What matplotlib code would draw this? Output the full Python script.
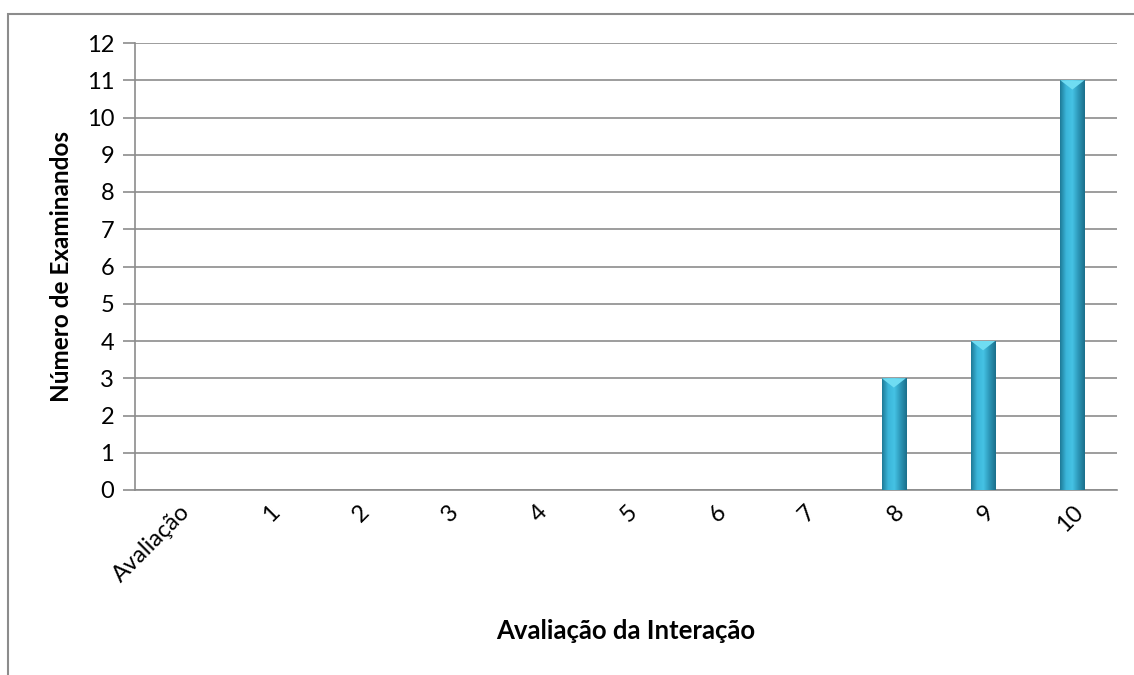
import numpy as np
import matplotlib.pyplot as plt
from matplotlib.colors import LinearSegmentedColormap
from matplotlib.patches import Rectangle

categories = ['Avaliação', '1', '2', '3', '4', '5', '6', '7', '8', '9', '10']
values = [0, 0, 0, 0, 0, 0, 0, 0, 3, 4, 11]

plt.rcParams['font.family'] = ['Lato', 'DejaVu Sans']

fig = plt.figure(figsize=(11.34, 6.75), dpi=100)
ax = fig.add_axes([135 / 1134, 1 - 490 / 675, (1117 - 135) / 1134, (490 - 43) / 675])

# outer frame like an Excel chart area (right and bottom edges fall off the picture)
top = 1 - 14 / 675
fig.patches.append(Rectangle((8 / 1134, -0.05), 1.2, top + 0.05,
                             transform=fig.transFigure, fill=False,
                             edgecolor='#8c8c8c', linewidth=1.5))

x = np.arange(len(categories))
bars = ax.bar(x, values, width=0.27, color='#2b9cbf', edgecolor='#1f7e9c',
              linewidth=0.6, zorder=3)

# horizontal shading to give the bars the cylinder look
cmap = LinearSegmentedColormap.from_list('cyl', ['#1d7996', '#3bb6da', '#45c2e4', '#2b95b6', '#1b6f8a'])
grad = np.linspace(0, 1, 256).reshape(1, -1)
for b in bars:
    h = b.get_height()
    if h <= 0:
        continue
    x0 = b.get_x()
    w = b.get_width()
    im = ax.imshow(grad, cmap=cmap, aspect='auto', extent=(x0, x0 + w, 0, h), zorder=4)
    im.set_clip_path(b)
    # light bevel at the top
    ax.fill([x0, x0 + w, x0 + w / 2], [h, h, h - 0.25], color='#6fdcf2', zorder=5, lw=0)

ax.set_xlim(-0.5, len(categories) - 0.5)
ax.set_ylim(0, 12)
ax.set_yticks(range(0, 13))
ax.yaxis.grid(True, color='#8c8c8c', linewidth=1.2, zorder=0)
ax.set_axisbelow(True)

for side in ['top', 'right']:
    ax.spines[side].set_visible(False)
ax.spines['left'].set_color('#8c8c8c')
ax.spines['bottom'].set_color('#8c8c8c')
ax.spines['left'].set_linewidth(1.2)
ax.spines['bottom'].set_linewidth(1.2)

ax.tick_params(axis='y', direction='out', length=9, color='#8c8c8c', width=1.2,
               labelsize=17, pad=6)
ax.tick_params(axis='x', length=0, labelsize=17, pad=8)
ax.set_xticks(x)
ax.set_xticklabels(categories, rotation=45, ha='right', rotation_mode='anchor')

ax.set_ylabel('Número de Examinandos', fontsize=17.5, fontweight='bold', labelpad=10)
ax.set_xlabel('Avaliação da Interação', fontsize=18.5, fontweight='bold', labelpad=24)

fig.savefig('out.png', dpi=100)
